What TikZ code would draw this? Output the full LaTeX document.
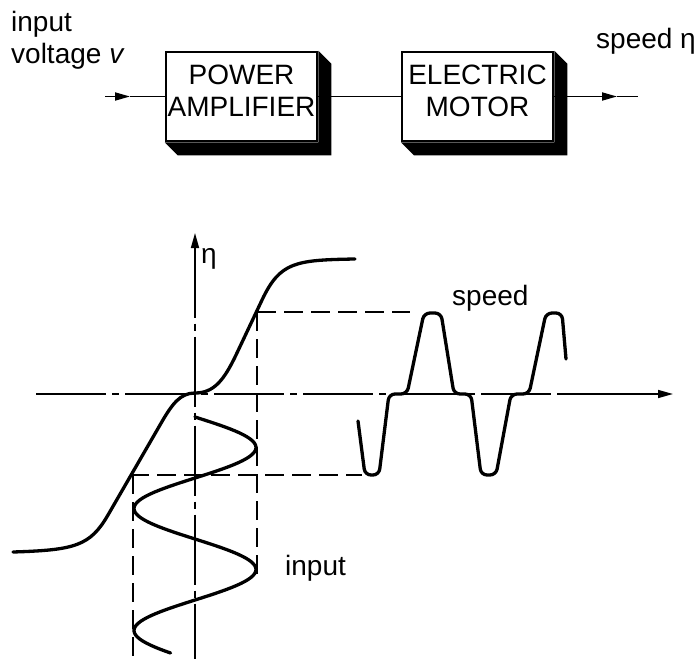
\documentclass[tikz,border=0pt]{standalone}
\usepackage{fontspec}
\setmainfont{Liberation Sans}
\usetikzlibrary{arrows.meta}
\usetikzlibrary{calc}

\begin{document}
\begin{tikzpicture}[x=1pt, y=-1pt,
    block/.style={draw, line width=2.5pt, minimum width=151pt, minimum height=89pt, inner sep=0pt},
    txt/.style={font=\fontsize{28}{32}\selectfont, inner sep=0pt},
    sig/.style={line width=1.8pt},
    tip/.style={-{Triangle[length=15pt, width=8pt]}},
    axis/.style={line width=1.6pt},
    dashdot/.style={dash pattern=on 70pt off 6pt on 7pt off 6pt},
    guide/.style={line width=1.6pt, dash pattern=on 19pt off 8pt},
    curve/.style={line width=3.3pt, line join=round, line cap=round}]
    \useasboundingbox (0,0) rectangle (698,659);

    \node[block] (amp) at (241.5,96.5) {};
    \node[block] (mot) at (477.5,96.5) {};
    \foreach \b in {amp, mot}
      \fill (\b.north east) -- ++(13,13) -- ($(\b.south east)+(13,13)$) -- ($(\b.south west)+(13,13)$)
        -- (\b.south west) -- (\b.south east) -- cycle;
    \node[txt, align=center] (ampText) at ([yshift=5.3pt]amp.center) {POWER\\AMPLIFIER};
    \node[txt, align=center] (motText) at ([yshift=5.3pt]mot.center) {ELECTRIC\\MOTOR};

    \coordinate (vIn) at (105,96.5);
    \coordinate (vInTip) at (130,96.5);
    \coordinate (nTip) at (617,96.5);
    \coordinate (nOut) at (638,96.5);
    \draw[sig, tip] (vIn) -- (vInTip);
    \draw[sig] (vInTip) -- (amp.west);
    \draw[sig] (amp.east) -- (mot.west);
    \draw[sig, tip] (mot.east) -- (nTip);
    \draw[sig] (nTip) -- (nOut);

    \node[txt, anchor=base west, align=left] (vLabel) at (11,63) {input\\voltage \textit{v}};
    \node[txt, anchor=base west] (nLabel) at (596,48) {speed η};

    \draw[axis, dashdot, {Triangle[length=15pt, width=8pt]}-] (195,233) -- (195,659);
    \draw[axis, dashdot] (36,394) -- (557,394);
    \draw[axis, tip] (557,394) -- (673,394);

    \draw[guide] (257,312) -- (410,312);
    \draw[guide] (257,312) -- (257,577);
    \draw[guide] (130,475) -- (362,475);
    \draw[guide] (133,475) -- (133,659);

    \draw[curve] (13,552) .. controls (75,550) and (90,546) .. (108,515) -- (160,425)
      .. controls (172,404) and (180,393) .. (195,393)
      .. controls (214,393) and (224,380) .. (236,355) -- (262,300)
      .. controls (280,262) and (295,260) .. (355,259);
    \draw[curve] plot[domain=417:653, samples=120, variable=\t] ({195+61*sin(2.9508*(\t-417))}, \t);
    \draw[curve, rounded corners=6pt] (358,421) -- (365,475) -- (379,475) -- (389,394) -- (407,394)
      -- (424,313) -- (441,313) -- (454,394) -- (471,394) -- (481,475) -- (496,475) -- (511,394)
      -- (529,394) -- (546,313) -- (562,313) -- (566,359);

    \node[txt, anchor=base west] (etaLabel) at (201,263) {η};
    \node[txt, anchor=base west] (speedLabel) at (452,305) {speed};
    \node[txt, anchor=base west] (inLabel) at (285,575) {input};
  \end{tikzpicture}
\end{document}
